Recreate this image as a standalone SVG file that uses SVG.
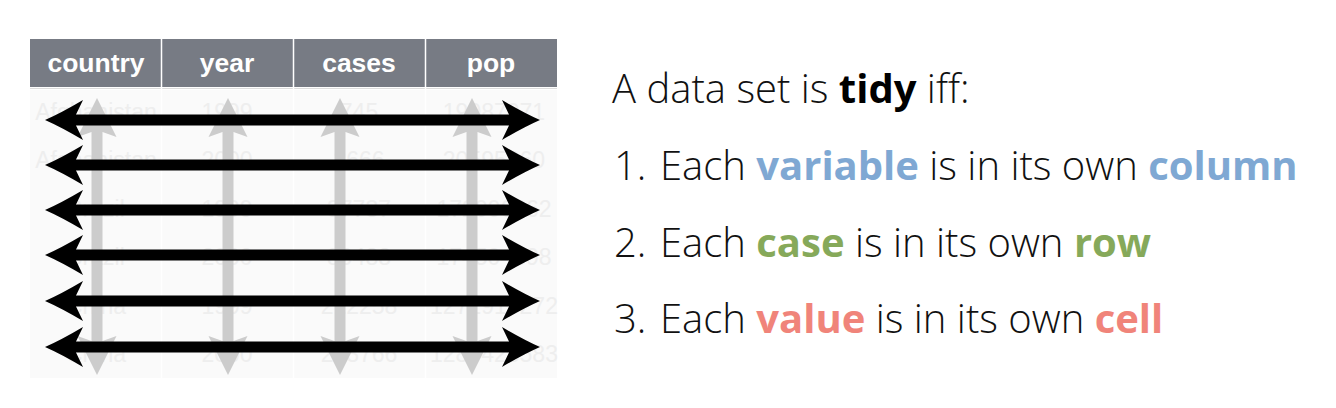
<svg xmlns="http://www.w3.org/2000/svg" width="1336" height="408" viewBox="0 0 1336 408">
<style>
.hdr{font-family:"Liberation Sans",Arial,sans-serif;font-weight:bold;font-size:26.5px;fill:#ffffff;text-anchor:middle}
.dat{font-family:"Liberation Sans",Arial,sans-serif;font-size:23px;fill:#eeeeee;text-anchor:middle}
.txt{font-family:"Open Sans","Noto Sans",sans-serif;font-weight:300;font-size:40px;fill:#111111}
.b{font-weight:700}
.blue{fill:#7fa8d3}
.green{fill:#86a95a}
.red{fill:#f0847a}
.k{fill:#000000}
.gray{stroke:#cccccc;stroke-width:11;marker-start:url(#gh);marker-end:url(#gh)}
.blk{stroke:#000000;stroke-width:11;marker-start:url(#bh);marker-end:url(#bh)}
</style>
<defs>
<marker id="bh" markerUnits="userSpaceOnUse" viewBox="0 -21 40 42" refX="7" refY="0" markerWidth="40" markerHeight="42" orient="auto-start-reverse">
<path d="M38,0 Q22,-7 0,-20 L7,-5.5 L7,5.5 L0,20 Q22,7 38,0 Z" fill="#000000"/>
</marker>
<marker id="gh" markerUnits="userSpaceOnUse" viewBox="0 -21 40 42" refX="5" refY="0" markerWidth="40" markerHeight="42" orient="auto-start-reverse">
<path d="M39,0 L0,-19.5 L5,-5.5 L5,5.5 L0,19.5 Z" fill="#cccccc"/>
</marker>
</defs>
<rect width="1336" height="408" fill="#ffffff"/>
<g id="table">
<rect x="30" y="90" width="527" height="288" fill="#fafafa"/>
<rect x="30" y="39" width="527" height="48" fill="#777b84"/>
<line x1="30" y1="88.5" x2="557" y2="88.5" stroke="#dddddd" stroke-width="1"/>
<g stroke="#ffffff" stroke-width="1.5">
<line x1="161.5" y1="39" x2="161.5" y2="378"/>
<line x1="293.5" y1="39" x2="293.5" y2="378"/>
<line x1="425.5" y1="39" x2="425.5" y2="378"/>
</g>
<text class="hdr" x="96" y="72">country</text>
<text class="hdr" x="227" y="72">year</text>
<text class="hdr" x="359" y="72">cases</text>
<text class="hdr" x="491" y="72">pop</text>
<g class="dat">
<text x="96" y="120">Afghanistan</text><text x="227" y="120">1999</text><text x="359" y="120">745</text><text x="494" y="120">19987071</text>
<text x="96" y="168">Afghanistan</text><text x="227" y="168">2000</text><text x="359" y="168">2666</text><text x="494" y="168">20595360</text>
<text x="96" y="217">Brazil</text><text x="227" y="217">1999</text><text x="359" y="217">37737</text><text x="494" y="217">172006362</text>
<text x="96" y="265">Brazil</text><text x="227" y="265">2000</text><text x="359" y="265">80488</text><text x="494" y="265">174504898</text>
<text x="96" y="314">China</text><text x="227" y="314">1999</text><text x="359" y="314">212258</text><text x="494" y="314">1272915272</text>
<text x="96" y="362">China</text><text x="227" y="362">2000</text><text x="359" y="362">213766</text><text x="494" y="362">1280428583</text>
</g>
</g>
<g id="connectors">
<line class="gray" x1="97" y1="132" x2="97" y2="341"/>
<line class="gray" x1="228" y1="132" x2="228" y2="341"/>
<line class="gray" x1="340" y1="132" x2="340" y2="341"/>
<line class="gray" x1="472" y1="132" x2="472" y2="341"/>
<line class="blk" x1="76" y1="120" x2="509" y2="120"/>
<line class="blk" x1="76" y1="165" x2="509" y2="165"/>
<line class="blk" x1="76" y1="210" x2="509" y2="210"/>
<line class="blk" x1="76" y1="255" x2="509" y2="255"/>
<line class="blk" x1="76" y1="301" x2="509" y2="301"/>
<line class="blk" x1="76" y1="347" x2="509" y2="347"/>
</g>
<g id="rules">
<text class="txt" x="612" y="103">A data set is <tspan class="b k">tidy</tspan> iff:</text>
<text class="txt" x="614" y="180">1.<tspan x="660">Each </tspan><tspan class="b blue">variable</tspan> is in its own <tspan class="b blue">column</tspan></text>
<text class="txt" x="614" y="257">2.<tspan x="660">Each </tspan><tspan class="b green">case</tspan> is in its own <tspan class="b green">row</tspan></text>
<text class="txt" x="614" y="333">3.<tspan x="660">Each </tspan><tspan class="b red">value</tspan> is in its own <tspan class="b red">cell</tspan></text>
</g>
</svg>
